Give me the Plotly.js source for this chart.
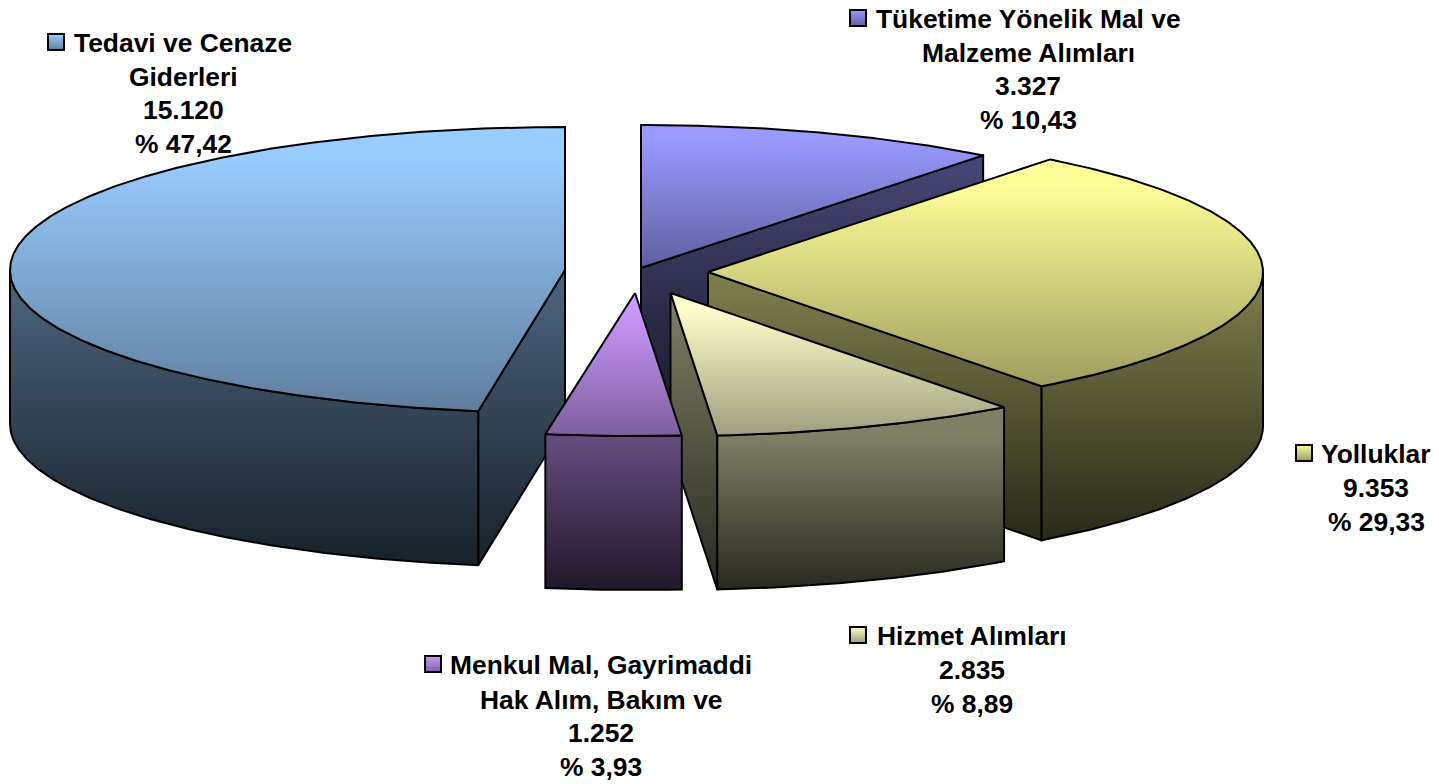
<!DOCTYPE html>
<html>
<head>
<meta charset="utf-8">
<script src="https://cdn.plot.ly/plotly-3.0.1.min.js"></script>
<style>html,body{margin:0;padding:0;background:#fff;overflow:hidden}#chart{width:1439px;height:784px}</style>
</head>
<body>
<div id="chart"></div>
<script>
// ---- data ----
const categories = ["Tüketime Yönelik Mal ve Malzeme Alımları","Yolluklar","Hizmet Alımları","Menkul Mal, Gayrimaddi Hak Alım, Bakım ve","Tedavi ve Cenaze Giderleri"];
const values = [3327, 9353, 2835, 1252, 15120];
const valueLabels = ["3.327","9.353","2.835","1.252","15.120"];
const percentLabels = ["% 10,43","% 29,33","% 8,89","% 3,93","% 47,42"];
const nameLines = [["Tüketime Yönelik Mal ve","Malzeme Alımları"],["Yolluklar"],["Hizmet Alımları"],["Menkul Mal, Gayrimaddi","Hak Alım, Bakım ve"],["Tedavi ve Cenaze","Giderleri"]];

// ---- style / layout ----
const baseColors = [[153,153,255],[255,255,153],[255,255,204],[204,153,255],[153,204,255]];
const sliceCentres = [[641,268],[708,272],[670.5,293],[635,293],[565,270]];
const RX = 555, RY = 143, DEPTH = 154;
const endNudgeDeg = [0.5,-0.1,0,0,0];    // small perspective correction of slice boundaries
const startNudgeDeg = [0,0,0,0,-0.3];
const labelCentreX = [1028,1376,972,601,183];
const labelLineY = [[19,53,86,120],[454,488,522],[636,670,704],[665,700,733,767],[43,77,110,144]];
const keyPos = [[858,18],[1304,453],[858,635],[433,664],[56,42]];
const drawOrder = [0,1,2,4,3];
const FONT = {family:'"Liberation Sans", Arial, sans-serif', size:26.4, color:'#000', weight:700};

function shade(c,k){return `rgb(${Math.round(c[0]*k)},${Math.round(c[1]*k)},${Math.round(c[2]*k)})`;}
const total = values.reduce((a,b)=>a+b,0);
const endDeg = []; let acc = 0;
values.forEach((v,i)=>{acc+=v; endDeg.push(acc/total*360+endNudgeDeg[i]);});
const startDeg = endDeg.map((_,i)=>(i?endDeg[i-1]:0)+startNudgeDeg[i]);

function rim(c,deg,dz){const t=deg*Math.PI/180;return [c[0]+RX*Math.sin(t),c[1]-RY*Math.cos(t)+(dz||0)];}
function arc(c,a,b,dz){const n=Math.max(2,Math.ceil(Math.abs(b-a)*2)),p=[];for(let i=0;i<=n;i++)p.push(rim(c,a+(b-a)*i/n,dz));return p;}

function poly(points,i,scale,y0,y1,part){
  const closed=points.concat([points[0]]);
  return {type:'scatter',mode:'lines',x:closed.map(p=>p[0]),y:closed.map(p=>p[1]),
    fill:'toself',line:{color:'#000',width:2,shape:'linear'},
    fillgradient:{type:'vertical',start:y0,stop:y1,
      colorscale:scale.map(s=>[s[0],shade(baseColors[i],s[1])])},
    name:categories[i]+' – '+part,hoverinfo:'text',text:categories[i]+': '+valueLabels[i]+' ('+percentLabels[i]+')',showlegend:false};
}
const TOP_SCALE=[[0,1],[0.1,1],[1,0.62]];
const SIDE_SCALE=[[0,0.5],[1,0.16]];

const traces=[];
drawOrder.forEach(i=>{
  const c=sliceCentres[i],a=startDeg[i],b=endDeg[i];
  const top=[c].concat(arc(c,a,b,0));
  const ys=top.map(p=>p[1]);
  const yMin=Math.min(...ys),yMax=Math.max(...ys);
  const radial=(deg)=>{const r=rim(c,deg,0);return [c,r,[r[0],r[1]+DEPTH],[c[0],c[1]+DEPTH]];};
  const frontFrom=Math.max(a,90), frontTo=Math.min(b,270);
  const wallBottom=yMax+DEPTH;
  // facing radial wall of each slice (the others are hidden)
  if(i===0) traces.push(poly(radial(b),i,SIDE_SCALE,yMin,c[1]+DEPTH,'yan'));
  if(i===1) traces.push(poly(radial(b),i,SIDE_SCALE,c[1],wallBottom,'yan'));
  if(i===2) traces.push(poly(radial(b),i,SIDE_SCALE,c[1],wallBottom,'yan'));
  if(i===4) traces.push(poly(radial(a),i,SIDE_SCALE,c[1],wallBottom,'yan'));
  if(frontTo>frontFrom){
    const up=arc(c,frontFrom,frontTo,0),down=arc(c,frontFrom,frontTo,DEPTH).reverse();
    const y0=(i===2||i===3)?yMax:c[1];
    traces.push(poly(up.concat(down),i,SIDE_SCALE,y0,wallBottom,'dış yüz'));
  }
  traces.push(poly(top,i,TOP_SCALE,yMin,yMax,'üst yüz'));
});

// legend keys
traces.push({type:'scatter',mode:'markers',x:keyPos.map(p=>p[0]),y:keyPos.map(p=>p[1]),
  marker:{symbol:'square',size:16,color:baseColors.map(c=>shade(c,1)),
    gradient:{type:'vertical',color:baseColors.map(c=>shade(c,.62))},
    line:{color:'#000',width:2}},
  hoverinfo:'skip',showlegend:false});

const annotations=[];
categories.forEach((_,i)=>{
  const lines=nameLines[i].concat([valueLabels[i],percentLabels[i]]);
  lines.forEach((t,j)=>annotations.push({xref:'x',yref:'y',x:labelCentreX[i],y:labelLineY[i][j],text:t,
    showarrow:false,font:FONT,xanchor:'center',yanchor:'middle',align:'center'}));
});

const hidden={visible:false,fixedrange:true};
Plotly.newPlot('chart',traces,{
  width:1439,height:784,margin:{l:0,r:0,t:0,b:0},
  paper_bgcolor:'#fff',plot_bgcolor:'#fff',showlegend:false,
  xaxis:Object.assign({range:[0,1439]},hidden),
  yaxis:Object.assign({range:[784,0]},hidden),
  annotations:annotations
},{displayModeBar:false});
</script>
</body>
</html>
